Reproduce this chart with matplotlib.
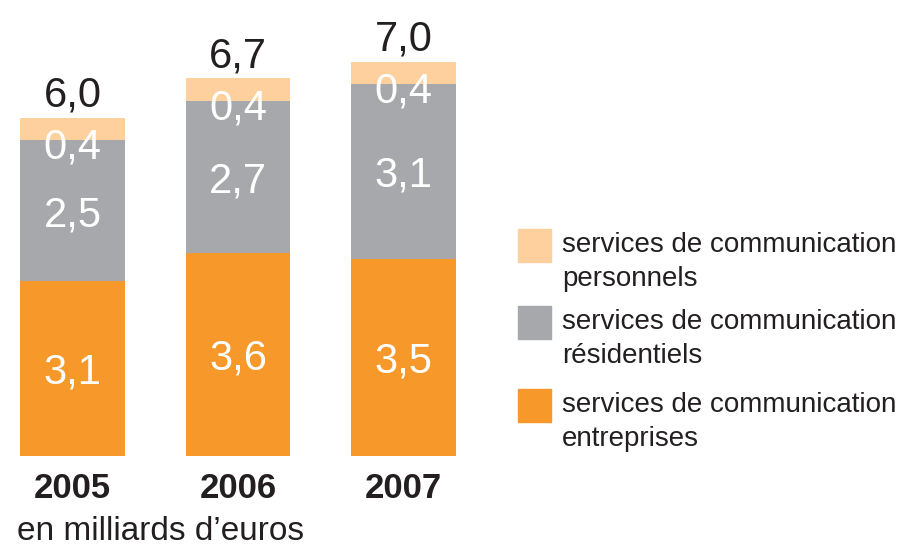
import matplotlib
matplotlib.use("Agg")
import matplotlib.pyplot as plt
from matplotlib.patches import Rectangle
import numpy as np

plt.rcParams['font.family'] = ['Liberation Sans', 'DejaVu Sans']

years = ["2005", "2006", "2007"]
entreprises = [3.1, 3.6, 3.5]
residentiels = [2.5, 2.7, 3.1]
personnels = [0.4, 0.4, 0.4]
totals = [6.0, 6.7, 7.0]
series_names = ["services de communication\npersonnels",
                "services de communication\nrésidentiels",
                "services de communication\nentreprises"]
unit_label = "en milliards d\u2019euros"

c_orange = "#F7982A"
c_gray = "#A7A8AC"
c_peach = "#FDD09E"
c_text = "#231F20"

def fmt(v):
    return f"{v:.1f}".replace(".", ",")

W, H = 903, 546
fig = plt.figure(figsize=(W / 100, H / 100), dpi=100)
ax = fig.add_axes([0, 0, 1, 1])
ax.set_axis_off()

x = np.arange(len(years))
bw = 0.634
ax.set_xlim(-0.438, 5.018)
ax.set_ylim(-1.604, 8.094)

b1 = np.array(entreprises)
b2 = b1 + np.array(residentiels)
b3 = b2 + np.array(personnels)

ax.bar(x, entreprises, width=bw, color=c_orange)
ax.bar(x, residentiels, width=bw, bottom=b1, color=c_gray)
ax.bar(x, personnels, width=bw, bottom=b2, color=c_peach)

fs = 30
for i in range(len(years)):
    ax.text(x[i], b1[i] / 2, fmt(entreprises[i]), ha="center", va="center_baseline",
            color="white", fontsize=fs)
    ax.text(x[i], (b1[i] + b2[i]) / 2, fmt(residentiels[i]), ha="center", va="center_baseline",
            color="white", fontsize=fs)
    ax.annotate(fmt(personnels[i]), (x[i], b2[i]), xytext=(0, -2), textcoords="offset points",
                ha="center", va="center_baseline", color="white", fontsize=fs)
    ax.annotate(fmt(totals[i]), (x[i], b3[i]), xytext=(0, 8), textcoords="offset points",
                ha="center", va="baseline", color=c_text, fontsize=fs)
    ax.annotate(years[i], (x[i], 0), xytext=(0, -21), textcoords="offset points",
                ha="center", va="center_baseline", color=c_text, fontsize=25, fontweight="bold")

# overlay in pixel coords for legend and unit label
ov = fig.add_axes([0, 0, 1, 1])
ov.set_axis_off()
ov.set_xlim(0, W)
ov.set_ylim(H, 0)
ov.patch.set_alpha(0)

leg_colors = [c_peach, c_gray, c_orange]
leg_tops = [229, 306, 389]
for col, top, name in zip(leg_colors, leg_tops, series_names):
    ov.add_patch(Rectangle((518, top), 33, 33, color=col))
    l1, l2 = name.split("\n")
    ov.text(562, top + 23, l1, ha="left", va="baseline", fontsize=20, color=c_text)
    ov.text(562, top + 57, l2, ha="left", va="baseline", fontsize=20, color=c_text)

ov.text(17, 540, unit_label, ha="left", va="baseline", fontsize=24, color=c_text)

fig.savefig("out.png", dpi=100)
